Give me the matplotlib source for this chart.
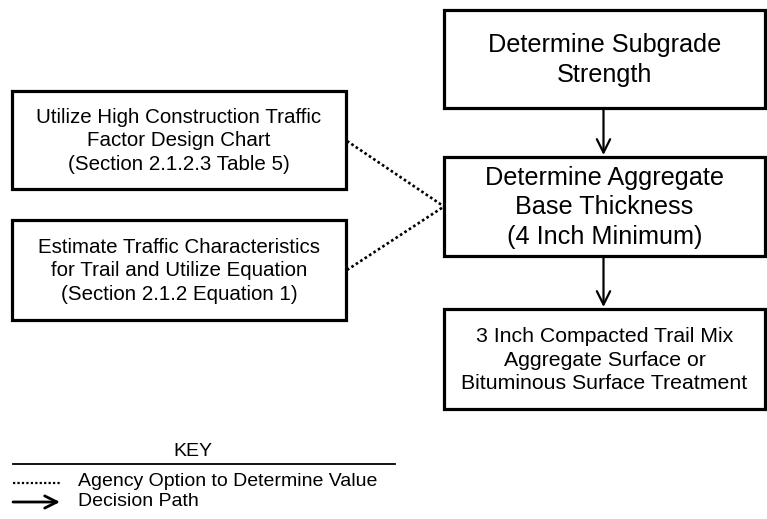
import matplotlib.pyplot as plt
from matplotlib.patches import Rectangle

plt.rcParams['font.family'] = ['Liberation Sans', 'DejaVu Sans']

# box texts
main_steps = [
    "Determine Subgrade\nStrength",
    "Determine Aggregate\nBase Thickness\n(4 Inch Minimum)",
    "3 Inch Compacted Trail Mix\nAggregate Surface or\nBituminous Surface Treatment",
]
options = [
    "Utilize High Construction Traffic\nFactor Design Chart\n(Section 2.1.2.3 Table 5)",
    "Estimate Traffic Characteristics\nfor Trail and Utilize Equation\n(Section 2.1.2 Equation 1)",
]
key_title = "KEY"
key_items = ["Agency Option to Determine Value", "Decision Path"]

fig = plt.figure(figsize=(7.67, 5.19), dpi=100)
ax = fig.add_axes([0, 0, 1, 1])
ax.set_xlim(0, 767)
ax.set_ylim(519, 0)
ax.axis('off')

# right column boxes: (top, bottom)
main_y = [(10, 108), (157, 256), (309, 409)]
main_x = (444, 765)
main_fs = [18.2, 18.2, 15.3]
for txt, (t, b), fs in zip(main_steps, main_y, main_fs):
    ax.add_patch(Rectangle((main_x[0], t), main_x[1] - main_x[0], b - t,
                           fill=False, lw=2.3, ec='black'))
    ax.text((main_x[0] + main_x[1]) / 2, (t + b) / 2 + 1, txt, ha='center', va='center',
            fontsize=fs, linespacing=1.3)

# arrows between main boxes
cx = (main_x[0] + main_x[1]) / 2 - 1
for (t0, b0), (t1, b1) in zip(main_y[:-1], main_y[1:]):
    ax.annotate("", xy=(cx, t1 - 2), xytext=(cx, b0 + 1),
                arrowprops=dict(arrowstyle='->', lw=1.6, color='black',
                                mutation_scale=24, shrinkA=0, shrinkB=0))

# left option boxes
opt_y = [(91, 189), (220, 320)]
opt_x = (12, 346)
for txt, (t, b) in zip(options, opt_y):
    ax.add_patch(Rectangle((opt_x[0], t), opt_x[1] - opt_x[0], b - t,
                           fill=False, lw=2.3, ec='black'))
    ax.text((opt_x[0] + opt_x[1]) / 2, (t + b) / 2 + 1, txt, ha='center', va='center',
            fontsize=14.8, linespacing=1.3)

# dotted connectors
target_y = (main_y[1][0] + main_y[1][1]) / 2
for sy in [141, 270]:
    ax.plot([opt_x[1] + 1, main_x[0]], [sy, target_y], color='black',
            lw=1.9, linestyle=(0, (1, 1)))

# key
ax.text(193, 451, key_title, ha='center', va='center', fontsize=14)
ax.plot([13, 395], [464, 464], color='black', lw=1.3)
ax.plot([13, 60], [483, 483], color='black', lw=1.6, linestyle=(0, (1, 1)))
ax.text(78, 482, key_items[0], ha='left', va='center', fontsize=14)
ax.annotate("", xy=(60, 502), xytext=(13, 502),
            arrowprops=dict(arrowstyle='->', lw=2.0, color='black',
                            mutation_scale=22, shrinkA=0, shrinkB=0))
ax.text(78, 501, key_items[1], ha='left', va='center', fontsize=14)

fig.savefig("out.png", dpi=100)
